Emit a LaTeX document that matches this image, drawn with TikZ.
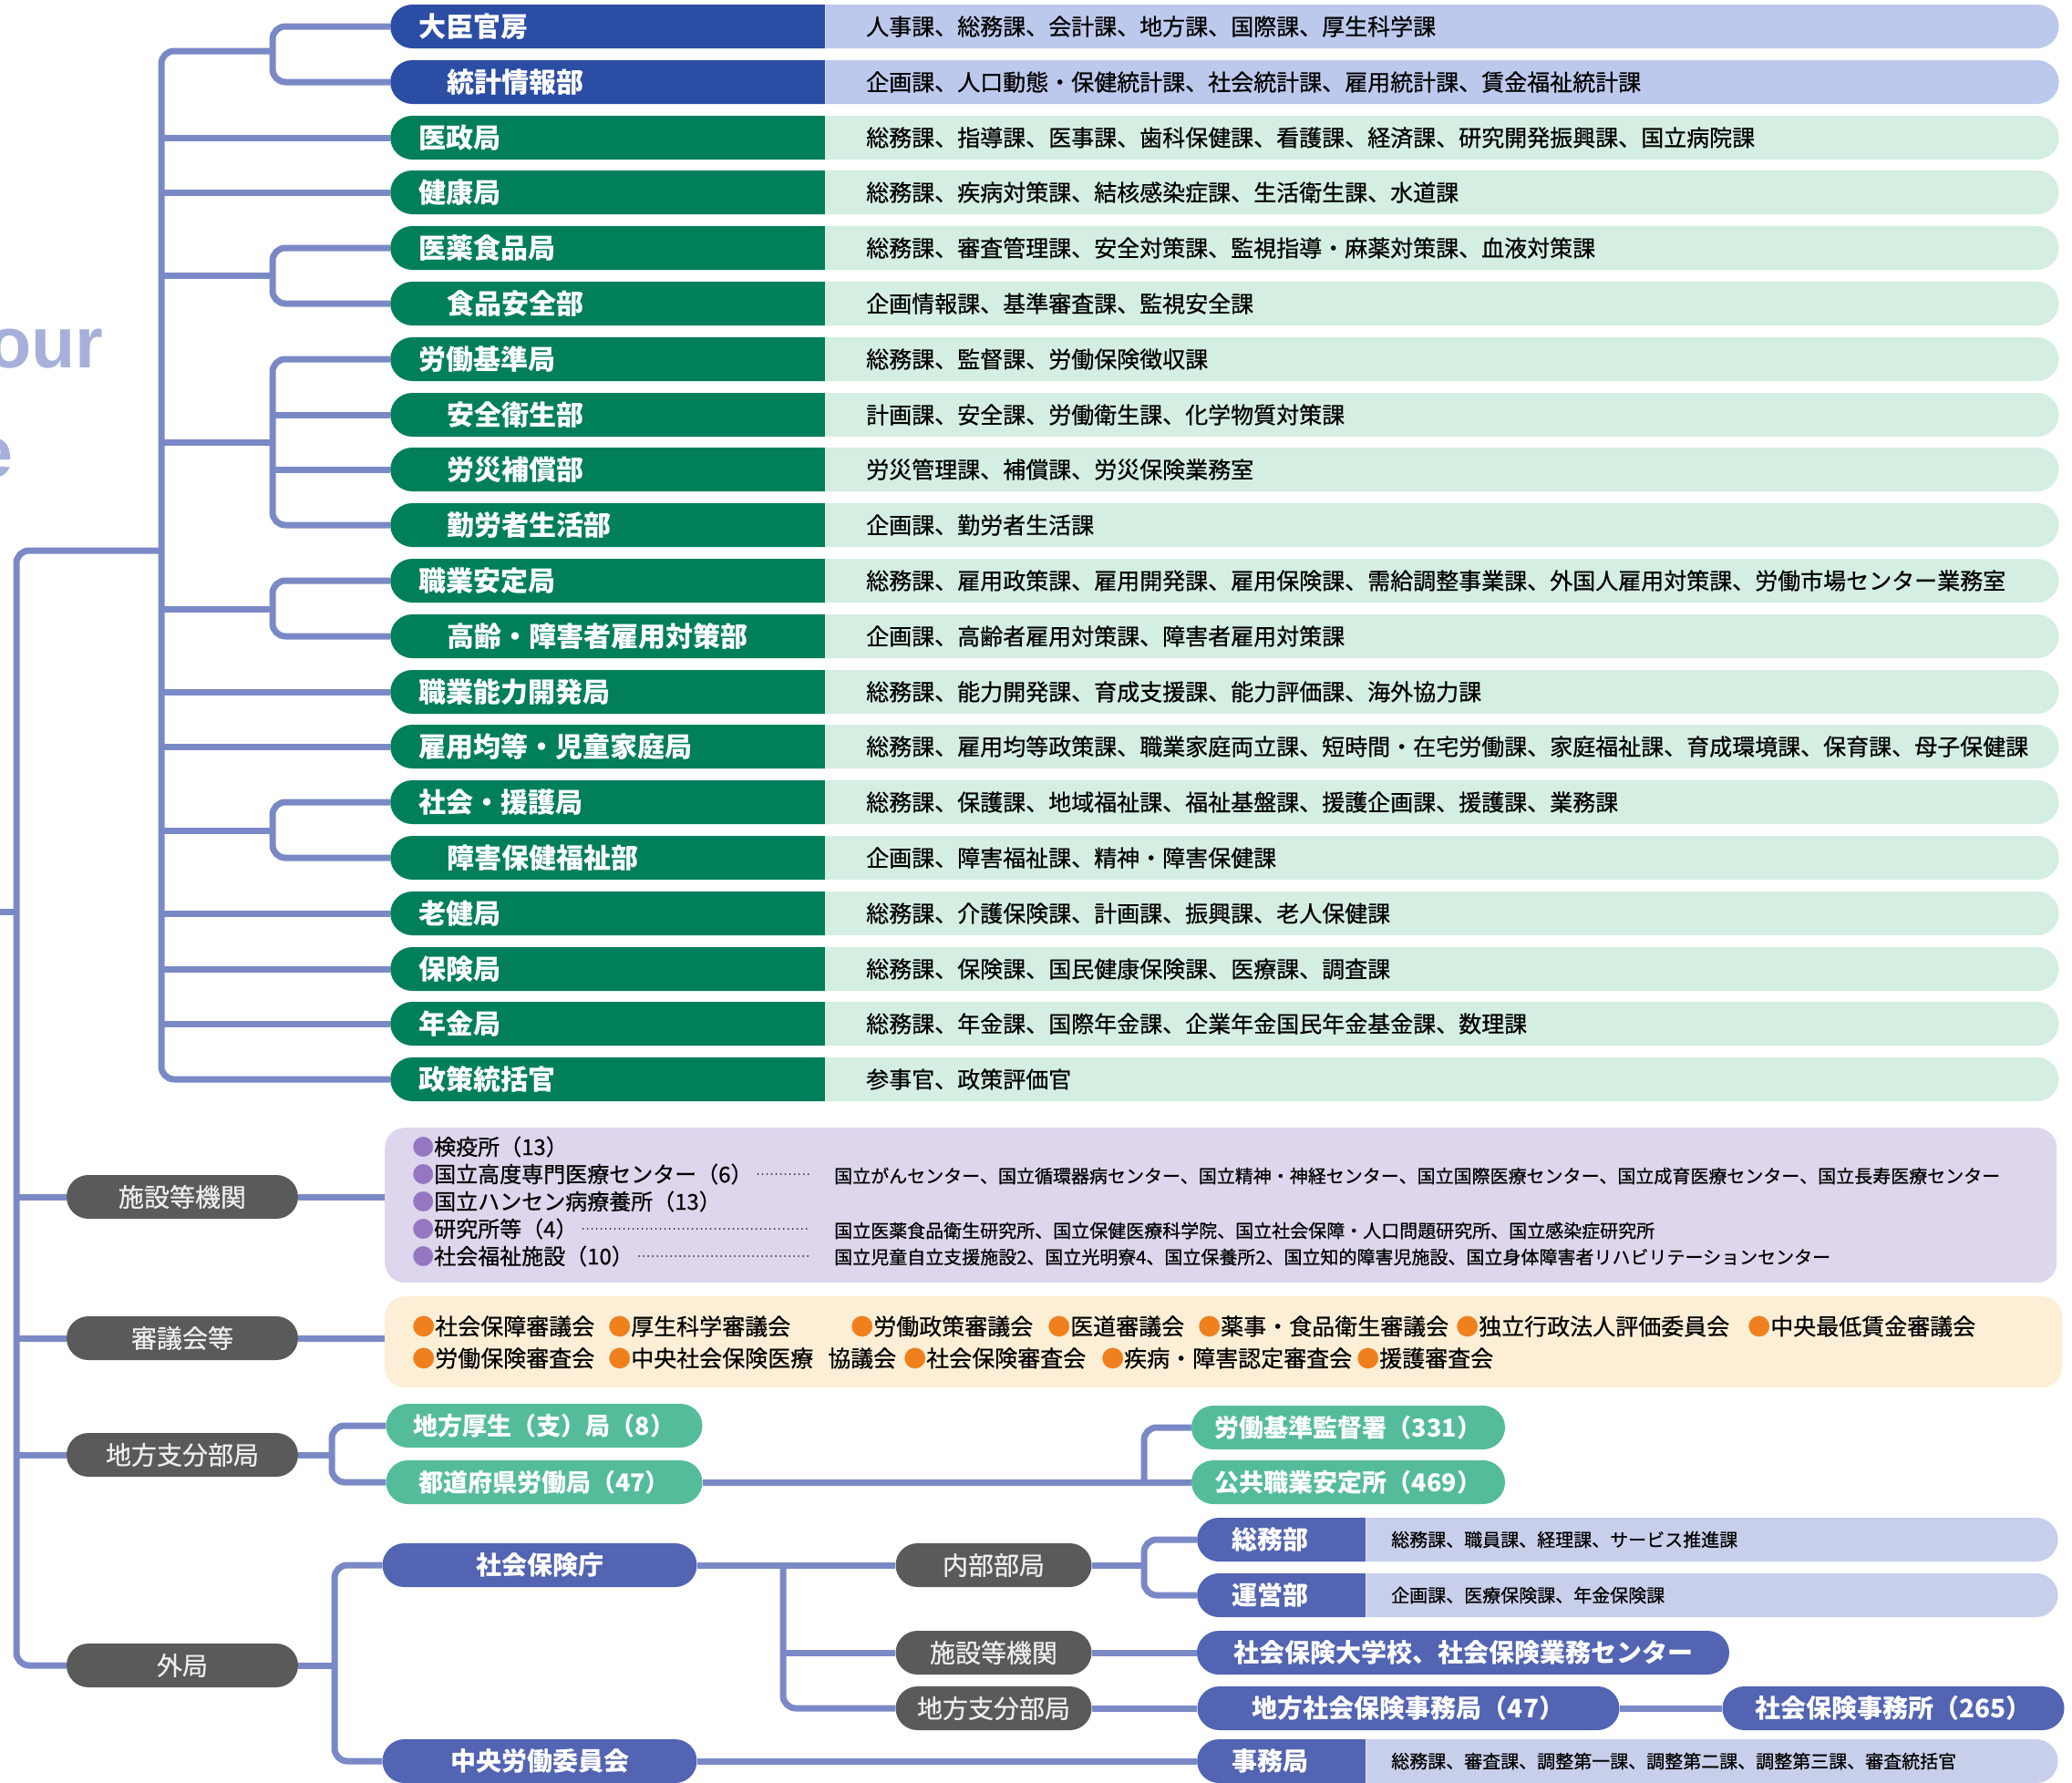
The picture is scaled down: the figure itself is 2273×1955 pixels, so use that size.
\documentclass[tikz,border=0pt]{standalone}
\usepackage{fontspec}
\setmainfont{Noto Sans CJK JP}
\newfontfamily\naka{Noto Sans CJK JP}[FakeBold=0.6]
\newfontfamily\eibun{Liberation Sans}
\usetikzlibrary{shapes.misc,calc}

\definecolor{kanbou}{RGB}{43,77,164}
\definecolor{kanbouL}{RGB}{188,201,236}
\definecolor{kyoku}{RGB}{0,127,90}
\definecolor{kyokuL}{RGB}{212,238,226}
\definecolor{senC}{RGB}{122,137,198}
\definecolor{haiC}{RGB}{90,90,90}
\definecolor{kikanC}{RGB}{221,214,236}
\definecolor{kikanB}{RGB}{150,118,192}
\definecolor{shingiC}{RGB}{253,239,214}
\definecolor{shingiB}{RGB}{240,128,30}
\definecolor{chihouC}{RGB}{84,188,154}
\definecolor{gaiC}{RGB}{82,100,178}
\definecolor{gaiL}{RGB}{200,207,235}
\definecolor{titleC}{RGB}{166,176,218}

\begin{document}
\begin{tikzpicture}[x=1pt, y=-1pt,
  sen/.style={draw=senC, line width=7pt},
  kado/.style={rounded corners=14pt},
  koi/.style={rounded rectangle, rounded rectangle right arc=none, fill=#1,
    minimum width=477pt, minimum height=48pt, inner sep=0pt, anchor=west},
  usui/.style={rounded rectangle, rounded rectangle left arc=none, fill=#1,
    minimum width=1353pt, minimum height=48pt, inner sep=0pt, anchor=west},
  mei/.style={text=white, font=\bfseries\fontsize{30pt}{30pt}\selectfont, inner sep=0pt, anchor=west},
  ka/.style={font=\naka\fontsize{25pt}{25pt}\selectfont, inner sep=0pt, anchor=west},
  chiisai/.style={font=\naka\fontsize{20pt}{20pt}\selectfont, inner sep=0pt, anchor=west},
  hai/.style={rounded rectangle, fill=haiC, text=black!7, minimum width=#1, minimum height=48pt,
    inner sep=0pt, font=\naka\fontsize{28pt}{28pt}\selectfont},
  midori/.style={rounded rectangle, fill=chihouC, text=white, minimum width=#1, minimum height=48pt,
    inner sep=0pt, font=\bfseries\fontsize{27pt}{27pt}\selectfont},
  ao/.style={rounded rectangle, fill=gaiC, text=white, minimum width=#1, minimum height=48pt,
    inner sep=0pt, font=\bfseries\fontsize{28pt}{28pt}\selectfont},
  koumoku/.style={font=\naka\fontsize{#1}{#1}\selectfont, inner sep=0pt, anchor=west},
  tensen/.style={draw=black!80, line width=2pt, dash pattern=on 0pt off 5pt, line cap=round}]

\useasboundingbox (0,0) rectangle (2273,1955);

% 背景の文字
\node[font=\eibun\bfseries\fontsize{79pt}{79pt}\selectfont, text=titleC, anchor=base west, inner sep=0pt] (our) at (-14,403) {our};
\node[font=\eibun\bfseries\fontsize{79pt}{79pt}\selectfont, text=titleC, anchor=base west, inner sep=0pt] (we) at (-30,523) {e};

% 内部部局
\node[koi=kanbou] (d1) at (428,29) {}; \node[usui=kanbouL] (u1) at (d1.east) {};
\node[mei] (m1) at (459,29) {大臣官房}; \node[ka] (k1) at (950,29) {人事課、総務課、会計課、地方課、国際課、厚生科学課};
\node[koi=kanbou] (d2) at (428,90) {}; \node[usui=kanbouL] (u2) at (d2.east) {};
\node[mei] (m2) at (490,90) {統計情報部}; \node[ka] (k2) at (950,90) {企画課、人口動態・保健統計課、社会統計課、雇用統計課、賃金福祉統計課};
\node[koi=kyoku] (d3) at (428,151) {}; \node[usui=kyokuL] (u3) at (d3.east) {};
\node[mei] (m3) at (459,151) {医政局}; \node[ka] (k3) at (950,151) {総務課、指導課、医事課、歯科保健課、看護課、経済課、研究開発振興課、国立病院課};
\node[koi=kyoku] (d4) at (428,211) {}; \node[usui=kyokuL] (u4) at (d4.east) {};
\node[mei] (m4) at (459,211) {健康局}; \node[ka] (k4) at (950,211) {総務課、疾病対策課、結核感染症課、生活衛生課、水道課};
\node[koi=kyoku] (d5) at (428,272) {}; \node[usui=kyokuL] (u5) at (d5.east) {};
\node[mei] (m5) at (459,272) {医薬食品局}; \node[ka] (k5) at (950,272) {総務課、審査管理課、安全対策課、監視指導・麻薬対策課、血液対策課};
\node[koi=kyoku] (d6) at (428,333) {}; \node[usui=kyokuL] (u6) at (d6.east) {};
\node[mei] (m6) at (490,333) {食品安全部}; \node[ka] (k6) at (950,333) {企画情報課、基準審査課、監視安全課};
\node[koi=kyoku] (d7) at (428,394) {}; \node[usui=kyokuL] (u7) at (d7.east) {};
\node[mei] (m7) at (459,394) {労働基準局}; \node[ka] (k7) at (950,394) {総務課、監督課、労働保険徴収課};
\node[koi=kyoku] (d8) at (428,455) {}; \node[usui=kyokuL] (u8) at (d8.east) {};
\node[mei] (m8) at (490,455) {安全衛生部}; \node[ka] (k8) at (950,455) {計画課、安全課、労働衛生課、化学物質対策課};
\node[koi=kyoku] (d9) at (428,515) {}; \node[usui=kyokuL] (u9) at (d9.east) {};
\node[mei] (m9) at (490,515) {労災補償部}; \node[ka] (k9) at (950,515) {労災管理課、補償課、労災保険業務室};
\node[koi=kyoku] (d10) at (428,576) {}; \node[usui=kyokuL] (u10) at (d10.east) {};
\node[mei] (m10) at (490,576) {勤労者生活部}; \node[ka] (k10) at (950,576) {企画課、勤労者生活課};
\node[koi=kyoku] (d11) at (428,637) {}; \node[usui=kyokuL] (u11) at (d11.east) {};
\node[mei] (m11) at (459,637) {職業安定局}; \node[ka] (k11) at (950,637) {総務課、雇用政策課、雇用開発課、雇用保険課、需給調整事業課、外国人雇用対策課、労働市場センター業務室};
\node[koi=kyoku] (d12) at (428,698) {}; \node[usui=kyokuL] (u12) at (d12.east) {};
\node[mei] (m12) at (490,698) {高齢・障害者雇用対策部}; \node[ka] (k12) at (950,698) {企画課、高齢者雇用対策課、障害者雇用対策課};
\node[koi=kyoku] (d13) at (428,759) {}; \node[usui=kyokuL] (u13) at (d13.east) {};
\node[mei] (m13) at (459,759) {職業能力開発局}; \node[ka] (k13) at (950,759) {総務課、能力開発課、育成支援課、能力評価課、海外協力課};
\node[koi=kyoku] (d14) at (428,819) {}; \node[usui=kyokuL] (u14) at (d14.east) {};
\node[mei] (m14) at (459,819) {雇用均等・児童家庭局}; \node[ka] (k14) at (950,819) {総務課、雇用均等政策課、職業家庭両立課、短時間・在宅労働課、家庭福祉課、育成環境課、保育課、母子保健課};
\node[koi=kyoku] (d15) at (428,880) {}; \node[usui=kyokuL] (u15) at (d15.east) {};
\node[mei] (m15) at (459,880) {社会・援護局}; \node[ka] (k15) at (950,880) {総務課、保護課、地域福祉課、福祉基盤課、援護企画課、援護課、業務課};
\node[koi=kyoku] (d16) at (428,941) {}; \node[usui=kyokuL] (u16) at (d16.east) {};
\node[mei] (m16) at (490,941) {障害保健福祉部}; \node[ka] (k16) at (950,941) {企画課、障害福祉課、精神・障害保健課};
\node[koi=kyoku] (d17) at (428,1002) {}; \node[usui=kyokuL] (u17) at (d17.east) {};
\node[mei] (m17) at (459,1002) {老健局}; \node[ka] (k17) at (950,1002) {総務課、介護保険課、計画課、振興課、老人保健課};
\node[koi=kyoku] (d18) at (428,1063) {}; \node[usui=kyokuL] (u18) at (d18.east) {};
\node[mei] (m18) at (459,1063) {保険局}; \node[ka] (k18) at (950,1063) {総務課、保険課、国民健康保険課、医療課、調査課};
\node[koi=kyoku] (d19) at (428,1123) {}; \node[usui=kyokuL] (u19) at (d19.east) {};
\node[mei] (m19) at (459,1123) {年金局}; \node[ka] (k19) at (950,1123) {総務課、年金課、国際年金課、企業年金国民年金基金課、数理課};
\node[koi=kyoku] (d20) at (428,1184) {}; \node[usui=kyokuL] (u20) at (d20.east) {};
\node[mei] (m20) at (459,1184) {政策統括官}; \node[ka] (k20) at (950,1184) {参事官、政策評価官};

% 左の区分
\node[hai=254pt] (g1) at (200,1313) {施設等機関};
\node[hai=254pt] (g2) at (200,1468) {審議会等};
\node[hai=254pt] (g3) at (200,1596) {地方支分部局};
\node[hai=254pt] (g4) at (200,1827) {外局};

% 施設等機関
\node[fill=kikanC, rounded corners=22pt, minimum width=1834pt, minimum height=170pt, inner sep=0pt, anchor=north west] (kikan) at (422,1237) {};
\node[koumoku=24pt] (p1) at (452,1258) {\textcolor{kikanB}{●}検疫所（13）};
\node[koumoku=24pt] (p2) at (452,1288) {\textcolor{kikanB}{●}国立高度専門医療センター（6）};
\node[koumoku=24pt] (p3) at (452,1318) {\textcolor{kikanB}{●}国立ハンセン病療養所（13）};
\node[koumoku=24pt] (p4) at (452,1348) {\textcolor{kikanB}{●}研究所等（4）};
\node[koumoku=24pt] (p5) at (452,1378) {\textcolor{kikanB}{●}社会福祉施設（10）};
\node[chiisai] (r2) at (915,1290) {国立がんセンター、国立循環器病センター、国立精神・神経センター、国立国際医療センター、国立成育医療センター、国立長寿医療センター};
\node[chiisai] (r4) at (915,1350) {国立医薬食品衛生研究所、国立保健医療科学院、国立社会保障・人口問題研究所、国立感染症研究所};
\node[chiisai] (r5) at (915,1379) {国立児童自立支援施設2、国立光明寮4、国立保養所2、国立知的障害児施設、国立身体障害者リハビリテーションセンター};
\draw[tensen, shorten <=6pt, shorten >=26pt] (p2.east) -- (p2.east -| r2.west);
\draw[tensen, shorten <=6pt, shorten >=26pt] (p4.east) -- (p4.east -| r4.west);
\draw[tensen, shorten <=6pt, shorten >=26pt] (p5.east) -- (p5.east -| r5.west);

% 審議会等
\node[fill=shingiC, rounded corners=22pt, minimum width=1840pt, minimum height=100pt, inner sep=0pt, anchor=north west] (shingi) at (422,1422) {};
\node[koumoku=25pt] (o1) at (452,1455) {\textcolor{shingiB}{●}社会保障審議会};
\node[koumoku=25pt] (o2) at (667,1455) {\textcolor{shingiB}{●}厚生科学審議会};
\node[koumoku=25pt] (o3) at (933,1455) {\textcolor{shingiB}{●}労働政策審議会};
\node[koumoku=25pt] (o4) at (1149,1455) {\textcolor{shingiB}{●}医道審議会};
\node[koumoku=25pt] (o5) at (1314,1455) {\textcolor{shingiB}{●}薬事・食品衛生審議会};
\node[koumoku=25pt] (o6) at (1597,1455) {\textcolor{shingiB}{●}独立行政法人評価委員会};
\node[koumoku=25pt] (o7) at (1917,1455) {\textcolor{shingiB}{●}中央最低賃金審議会};
\node[koumoku=25pt] (o8) at (452,1490) {\textcolor{shingiB}{●}労働保険審査会};
\node[koumoku=25pt] (o9) at (667,1490) {\textcolor{shingiB}{●}中央社会保険医療\hspace{16pt}協議会};
\node[koumoku=25pt] (o10) at (991,1490) {\textcolor{shingiB}{●}社会保険審査会};
\node[koumoku=25pt] (o11) at (1208,1490) {\textcolor{shingiB}{●}疾病・障害認定審査会};
\node[koumoku=25pt] (o12) at (1488,1490) {\textcolor{shingiB}{●}援護審査会};

% 地方支分部局
\node[midori=347pt] (c1) at (597,1564) {地方厚生（支）局（8）};
\node[midori=347pt] (c2) at (597,1626) {都道府県労働局（47）};
\node[midori=344pt] (c3) at (1479,1566) {労働基準監督署（331）};
\node[midori=344pt] (c4) at (1479,1626) {公共職業安定所（469）};

% 外局
\node[ao=345pt] (s1) at (592,1717) {社会保険庁};
\node[ao=345pt] (s2) at (592,1932) {中央労働委員会};
\node[hai=215pt] (h1) at (1090,1717) {内部部局};
\node[hai=215pt] (h2) at (1090,1813) {施設等機関};
\node[hai=215pt] (h3) at (1090,1874) {地方支分部局};
\node[koi=gaiC, minimum width=185pt] (e1) at (1313,1689) {}; \node[usui=gaiL, minimum width=759pt] (f1) at (e1.east) {};
\node[mei, font=\bfseries\fontsize{28pt}{28pt}\selectfont] (n1) at (1351,1689) {総務部}; \node[chiisai] (q1) at (1526,1689) {総務課、職員課、経理課、サービス推進課};
\node[koi=gaiC, minimum width=185pt] (e2) at (1313,1750) {}; \node[usui=gaiL, minimum width=759pt] (f2) at (e2.east) {};
\node[mei, font=\bfseries\fontsize{28pt}{28pt}\selectfont] (n2) at (1351,1750) {運営部}; \node[chiisai] (q2) at (1526,1750) {企画課、医療保険課、年金保険課};
\node[ao=584pt] (daigaku) at (1605,1813) {社会保険大学校、社会保険業務センター};
\node[ao=463pt] (jimukyoku) at (1545,1874) {地方社会保険事務局（47）};
\node[ao=375pt] (jimusho) at (2077,1874) {社会保険事務所（265）};
\node[koi=gaiC, minimum width=185pt] (e3) at (1313,1932) {}; \node[usui=gaiL, minimum width=759pt] (f3) at (e3.east) {};
\node[mei, font=\bfseries\fontsize{28pt}{28pt}\selectfont] (n3) at (1351,1932) {事務局}; \node[chiisai] (q3) at (1526,1932) {総務課、審査課、調整第一課、調整第二課、調整第三課、審査統括官};

% 線（本省）
\draw[sen, kado] (d1.west) -| (299,56) |- (d2.west);
\draw[sen, kado] (299,56) -| (177,1184) -- (d20.west);
\draw[sen] (d3.west) -- ++(-251,0);
\draw[sen] (d4.west) -- ++(-251,0);
\draw[sen, kado] (d5.west) -| (299,302) |- (d6.west);
\draw[sen] (177,302) -- (299,302);
\draw[sen, kado] (d7.west) -| (299,485) |- (d10.west);
\draw[sen] (d8.west) -- ++(-129,0);
\draw[sen] (d9.west) -- ++(-129,0);
\draw[sen] (177,485) -- (299,485);
\draw[sen, kado] (d11.west) -| (299,668) |- (d12.west);
\draw[sen] (177,668) -- (299,668);
\draw[sen] (d13.west) -- ++(-251,0);
\draw[sen] (d14.west) -- ++(-251,0);
\draw[sen, kado] (d15.west) -| (299,911) |- (d16.west);
\draw[sen] (177,911) -- (299,911);
\draw[sen] (d17.west) -- ++(-251,0);
\draw[sen] (d18.west) -- ++(-251,0);
\draw[sen] (d19.west) -- ++(-251,0);

% 線（左）
\coordinate (daijin) at (-5,1000);
\draw[sen] (daijin) -- (18,1000);
\draw[sen, kado] (177,604) -| (18,1827) -- (g4.west);
\draw[sen] (g1.west) -- ++(-55,0);
\draw[sen] (g2.west) -- ++(-55,0);
\draw[sen] (g3.west) -- ++(-55,0);
\draw[sen] (g1.east) -- (g1.east -| kikan.west);
\draw[sen] (g2.east) -- (g2.east -| shingi.west);

% 線（地方支分部局）
\draw[sen] (g3.east) -- (364,1596);
\draw[sen, kado] (c1.west) -| (364,1595) |- (c2.west);
\draw[sen] (c2.east) -- (c4.west);
\draw[sen, kado] (c3.west) -| (1255,1626);

% 線（外局）
\draw[sen] (g4.east) -- (367,1827);
\draw[sen, kado] (s1.west) -| (367,1827) |- (s2.west);
\draw[sen] (s1.east) -- (h1.west);
\draw[sen, kado] (859,1717) |- (h3.west);
\draw[sen] (h2.west) -- ++(-124,0);
\draw[sen] (h1.east) -- (1255,1717);
\draw[sen, kado] (e1.west) -| (1255,1717) |- (e2.west);
\draw[sen] (h2.east) -- (daigaku.west);
\draw[sen] (h3.east) -- (jimukyoku.west);
\draw[sen] (jimukyoku.east) -- (jimusho.west);
\draw[sen] (s2.east) -- (e3.west);
\end{tikzpicture}
\end{document}
